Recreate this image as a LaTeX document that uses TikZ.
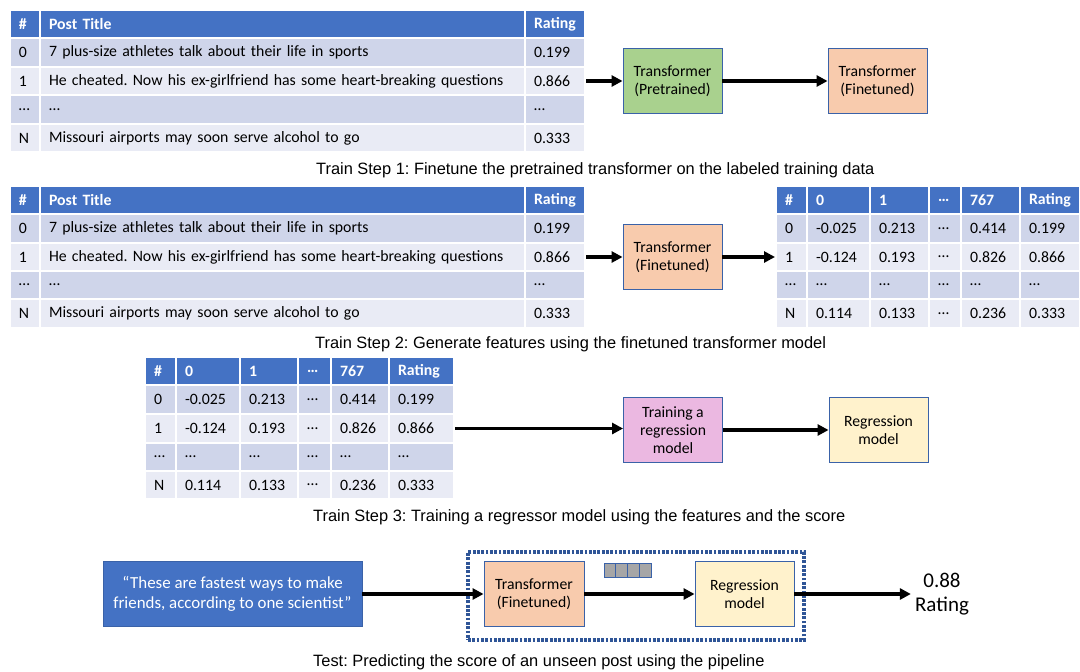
\documentclass[tikz,border=0pt]{standalone}
\usepackage{fontspec}
\setmainfont{Carlito}
\newfontfamily\capfont{Liberation Sans}
\usetikzlibrary{arrows.meta}
\frenchspacing
\definecolor{hdrblue}{HTML}{4472C4}
\definecolor{rowA}{HTML}{CFD5EA}
\definecolor{rowB}{HTML}{E9EBF5}
\definecolor{bordblue}{HTML}{3A62A8}
\definecolor{pgreen}{HTML}{A9D18E}
\definecolor{ppeach}{HTML}{F8CBAD}
\definecolor{ppink}{HTML}{EBB8E1}
\definecolor{pyellow}{HTML}{FFF2CC}
\definecolor{vgray}{HTML}{A6A6A6}
\definecolor{framecol}{HTML}{2F5597}
\newcommand{\tabfont}{\fontsize{15.8}{18}\selectfont}
\newcommand{\tcell}[7]{%
  \pgfmathsetmacro{\tw}{#4-#2-18}%
  \pgfmathsetmacro{\ch}{#5-#3}%
  \pgfmathsetmacro{\cx}{(#2+#4)/2}%
  \pgfmathsetmacro{\cy}{(#3+#5)/2}%
  \node[cell,#6,minimum height=\ch pt,text width=\tw pt] (#1) at (\cx,\cy) {#7};}
\newcommand{\trow}[5]{%
  \foreach \xa/\xb/\lab [count=\ci] in {#5} {\tcell{#1-\ci}{\xa}{#2}{\xb}{#3}{#4}{\lab}}}
\tikzset{
  cell/.style={rectangle, draw=white, line width=2pt, inner xsep=9pt, inner ysep=0pt,
    align=left, font=\tabfont, text=black},
  hdr/.style={fill=hdrblue, text=white, font=\tabfont\bfseries},
  rA/.style={fill=rowA},
  rB/.style={fill=rowB},
  proc/.style={rectangle, draw=bordblue, line width=0.9pt, minimum width=99pt,
    minimum height=65pt, align=center, font=\fontsize{15.7}{18}\selectfont, inner sep=2pt},
  arr/.style={line width=3.2pt, -{Triangle[length=11pt,width=11pt]}},
  caption/.style={font=\capfont\fontsize{16.4}{18}\selectfont, inner sep=0pt, anchor=west},
  vec/.style={rectangle, draw=bordblue, line width=0.7pt, fill=vgray, minimum width=11.75pt,
    minimum height=14pt, inner sep=0pt},
}
\begin{document}
\begin{tikzpicture}[x=1pt,y=-1pt]
\fill[white] (0,0) rectangle (1080,672);
\useasboundingbox (0,0) rectangle (1080,672);

% ---------- Table 1 ----------
\trow{t1h}{10}{38}{hdr}{10/40/\#, 40/525/Post Title, 525/585/Rating}
\trow{t1r0}{38}{67}{rA}{10/40/0, 40/525/7 plus-size athletes talk about their life in sports, 525/585/0.199}
\trow{t1r1}{67}{95}{rB}{10/40/1, 40/525/He cheated. Now his ex-girlfriend has some heart-breaking questions, 525/585/0.866}
\trow{t1r2}{95}{124}{rA}{10/40/…, 40/525/…, 525/585/…}
\trow{t1r3}{124}{152}{rB}{10/40/N, 40/525/Missouri airports may soon serve alcohol to go, 525/585/0.333}

\node[proc, fill=pgreen] (pre) at (672.5,81) {Transformer\\(Pretrained)};
\node[proc, fill=ppeach] (fin) at (877.5,81) {Transformer\\(Finetuned)};
\draw[arr] (t1r1-3.east) -- (t1r1-3.east -| pre.west);
\draw[arr] (pre.east) -- (fin.west);
\node[caption] (cap1) at (316,170) {Train Step 1: Finetune the pretrained transformer on the labeled training data};

% ---------- Table 2 ----------
\trow{t2h}{186}{214}{hdr}{10/40/\#, 40/525/Post Title, 525/585/Rating}
\trow{t2r0}{214}{243}{rA}{10/40/0, 40/525/7 plus-size athletes talk about their life in sports, 525/585/0.199}
\trow{t2r1}{243}{271}{rB}{10/40/1, 40/525/He cheated. Now his ex-girlfriend has some heart-breaking questions, 525/585/0.866}
\trow{t2r2}{271}{299}{rA}{10/40/…, 40/525/…, 525/585/…}
\trow{t2r3}{299}{328}{rB}{10/40/N, 40/525/Missouri airports may soon serve alcohol to go, 525/585/0.333}

\node[proc, fill=ppeach] (fin2) at (672.5,257) {Transformer\\(Finetuned)};

\trow{f2h}{186}{214}{hdr}{776/807/\#, 807/870/0, 870/929/1, 929/961/…, 961/1020/767, 1020/1080/Rating}
\trow{f2r0}{214}{243}{rA}{776/807/0, 807/870/-0.025, 870/929/0.213, 929/961/…, 961/1020/0.414, 1020/1080/0.199}
\trow{f2r1}{243}{271}{rB}{776/807/1, 807/870/-0.124, 870/929/0.193, 929/961/…, 961/1020/0.826, 1020/1080/0.866}
\trow{f2r2}{271}{299}{rA}{776/807/…, 807/870/…, 870/929/…, 929/961/…, 961/1020/…, 1020/1080/…}
\trow{f2r3}{299}{328}{rB}{776/807/N, 807/870/0.114, 870/929/0.133, 929/961/…, 961/1020/0.236, 1020/1080/0.333}

\draw[arr] (t2r1-3.east) -- (t2r1-3.east -| fin2.west);
\draw[arr] (fin2.east) -- (fin2.east -| f2r1-1.west);
\node[caption] (cap2) at (315,344) {Train Step 2: Generate features using the finetuned transformer model};

% ---------- Table 3 ----------
\trow{t3h}{357}{385}{hdr}{145/176/\#, 176/240/0, 240/298/1, 298/331/…, 331/389/767, 389/454/Rating}
\trow{t3r0}{385}{414}{rA}{145/176/0, 176/240/-0.025, 240/298/0.213, 298/331/…, 331/389/0.414, 389/454/0.199}
\trow{t3r1}{414}{443}{rB}{145/176/1, 176/240/-0.124, 240/298/0.193, 298/331/…, 331/389/0.826, 389/454/0.866}
\trow{t3r2}{443}{471}{rA}{145/176/…, 176/240/…, 240/298/…, 298/331/…, 331/389/…, 389/454/…}
\trow{t3r3}{471}{499}{rB}{145/176/N, 176/240/0.114, 240/298/0.133, 298/331/…, 331/389/0.236, 389/454/0.333}

\node[proc, fill=ppink] (trn) at (673,430) {Training a\\regression\\model};
\node[proc, fill=pyellow] (reg) at (878.5,430) {Regression\\model};
\draw[arr] (t3r1-6.east) -- (t3r1-6.east -| trn.west);
\draw[arr] (trn.east) -- (reg.west);
\node[caption] (cap3) at (313,517) {Train Step 3: Training a regressor model using the features and the score};

% ---------- Test ----------
\node[rectangle, draw=bordblue, line width=0.9pt, fill=hdrblue, text=white, minimum width=259pt,
  minimum height=65pt, align=center, font=\fontsize{16.9}{20}\selectfont] (quote) at (232.5,594)
  {“These are fastest ways to make\\friends, according to one scientist”};
\node[rectangle, draw=framecol, line width=3.4pt, dash pattern=on 2.8pt off 1.5pt,
  minimum width=336pt, minimum height=88pt] (pipe) at (636,596) {};
\node[proc, fill=ppeach, minimum width=100pt] (tf3) at (534,594) {Transformer\\(Finetuned)};
\node[proc, fill=pyellow] (reg3) at (744.5,594) {Regression\\model};
\foreach \i in {0,...,3} {
  \node[vec] (v\i) at ({604+11.75*\i+5.875},570) {};
}
\node[font=\fontsize{21}{24}\selectfont, align=center, inner xsep=4pt] (out) at (942,594) {0.88\\Rating};
\draw[arr] (quote.east) -- (tf3.west);
\draw[arr] (tf3.east) -- (reg3.west);
\draw[arr] (reg3.east) -- (out.west);
\node[caption] (cap4) at (313,662) {Test: Predicting the score of an unseen post using the pipeline};
\end{tikzpicture}
\end{document}
